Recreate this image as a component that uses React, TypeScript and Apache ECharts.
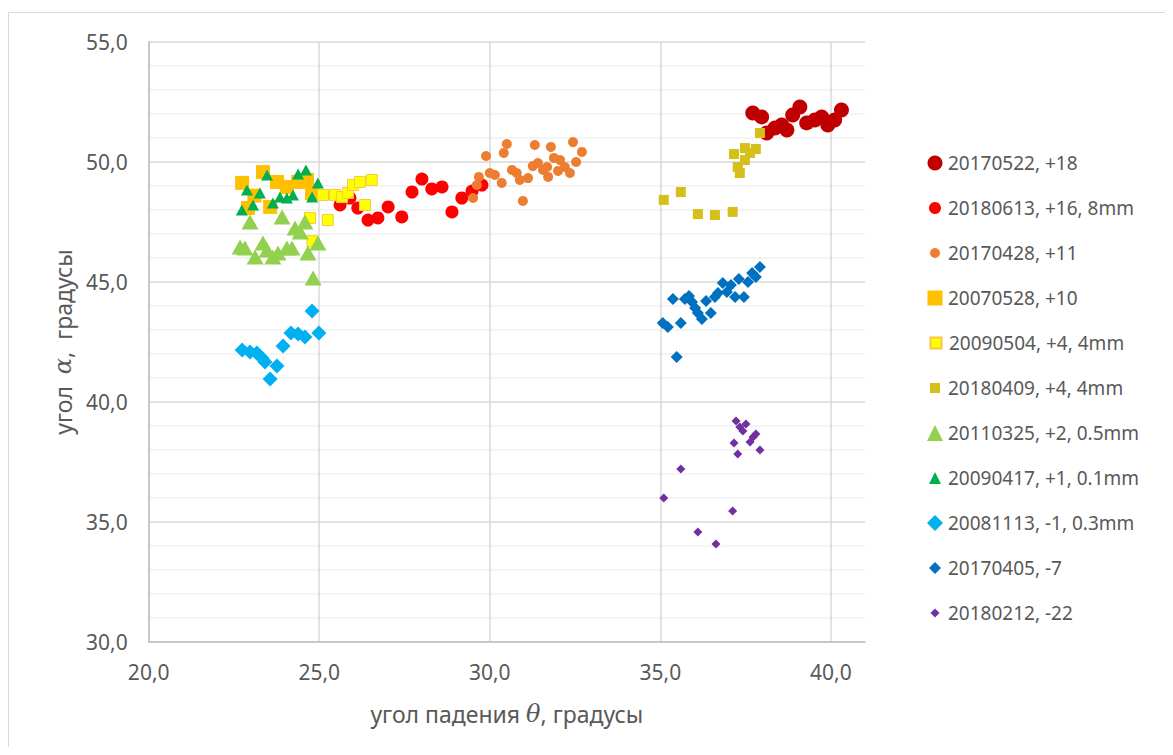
import React, { useEffect, useRef } from "react";
import * as echarts from "echarts";

const s20170522: number[][] = [
  [37.71, 52.04], [37.97, 51.88], [38.12, 51.21], [38.36, 51.42], [38.56, 51.54],
  [38.71, 51.33], [38.88, 51.96], [39.09, 52.29], [39.29, 51.63], [39.53, 51.75],
  [39.73, 51.88], [39.91, 51.54], [40.11, 51.75], [40.31, 52.17],
];
const s20180613: number[][] = [
  [25.61, 48.21], [25.9, 48.5], [26.13, 48.08], [26.43, 47.58], [26.72, 47.67],
  [27.02, 48.13], [27.42, 47.71], [27.72, 48.75], [28.01, 49.29], [28.3, 48.88],
  [28.6, 48.96], [28.89, 47.92], [29.18, 48.5], [29.48, 48.79], [29.77, 49.04],
];
const s20170428: number[][] = [
  [29.89, 50.25], [30.5, 50.75], [30.41, 50.38], [29.68, 49.38], [29.62, 49.04],
  [29.51, 48.5], [30.0, 49.54], [30.15, 49.46], [30.35, 49.13], [30.65, 49.67],
  [30.79, 49.54], [30.88, 49.25], [31.12, 49.33], [30.97, 48.38], [31.26, 49.83],
  [31.32, 50.71], [31.41, 49.96], [31.56, 49.67], [31.68, 49.79], [31.71, 49.38],
  [31.79, 50.63], [31.88, 50.17], [32.06, 50.08], [32.0, 49.63], [32.2, 49.79],
  [32.35, 49.54], [32.44, 50.83], [32.53, 50.0], [32.7, 50.42],
];
const s20070528: number[][] = [
  [22.74, 49.13], [23.35, 49.58], [23.76, 49.17], [24.05, 48.96], [24.38, 49.17],
  [24.64, 49.25], [24.79, 48.71], [22.91, 48.08], [23.56, 48.13], [23.1, 48.6],
];
const s20090504: number[][] = [
  [25.11, 48.63], [25.46, 48.63], [25.67, 48.54], [25.84, 48.71], [25.99, 49.04],
  [26.19, 49.17], [26.54, 49.25], [26.34, 48.21], [24.73, 47.67], [25.25, 47.58],
  [24.8, 46.7],
];
const s20180409: number[][] = [
  [37.92, 51.21], [37.16, 50.33], [37.48, 50.58], [37.8, 50.54], [37.63, 50.38],
  [37.48, 50.08], [37.27, 49.79], [37.33, 49.54], [35.1, 48.42], [35.6, 48.75],
  [36.1, 47.83], [36.6, 47.79], [37.12, 47.92],
];
const s20110325: number[][] = [
  [22.97, 47.5], [23.91, 47.71], [24.29, 47.25], [24.58, 47.5], [24.44, 47.08],
  [22.68, 46.46], [22.82, 46.42], [23.12, 46.04], [23.35, 46.63], [23.47, 46.33],
  [23.64, 46.04], [23.79, 46.21], [24.05, 46.42], [24.2, 46.42], [24.67, 46.21],
  [24.96, 46.63], [24.82, 45.17],
];
const s20090417: number[][] = [
  [23.47, 49.46], [22.88, 48.83], [23.26, 48.71], [23.06, 48.21], [22.73, 48.0],
  [23.64, 48.29], [23.85, 48.54], [24.05, 48.5], [24.23, 48.63], [24.38, 49.5],
  [24.61, 49.67], [24.96, 49.13], [24.79, 48.54],
];
const s20081113: number[][] = [
  [22.74, 42.17], [22.97, 42.08], [23.17, 42.04], [23.32, 41.83], [23.41, 41.67],
  [23.56, 40.96], [23.76, 41.5], [23.94, 42.33], [24.17, 42.88], [24.38, 42.83],
  [24.58, 42.71], [24.79, 43.79], [24.99, 42.88],
];
const s20170405: number[][] = [
  [35.07, 43.29], [35.22, 43.13], [35.37, 44.29], [35.6, 43.29], [35.48, 41.88],
  [35.72, 44.29], [35.84, 44.42], [35.93, 44.17], [36.02, 43.92], [36.1, 43.71],
  [36.22, 43.46], [36.34, 44.21], [36.48, 43.71], [36.6, 44.38], [36.69, 44.54],
  [36.83, 44.96], [36.95, 44.58], [37.07, 44.88], [37.19, 44.38], [37.3, 45.13],
  [37.45, 44.38], [37.57, 45.0], [37.69, 45.38], [37.8, 45.21], [37.92, 45.63],
];
const s20180212: number[][] = [
  [37.22, 39.21], [37.33, 38.96], [37.42, 38.79], [37.51, 39.08], [37.16, 38.29],
  [37.27, 37.83], [37.63, 38.33], [37.72, 38.54], [37.8, 38.67], [37.92, 38.0],
  [35.6, 37.21], [35.1, 36.0], [37.12, 35.46], [36.1, 34.58], [36.63, 34.08],
];

const seriesNames: string[] = [
  "20170522, +18",
  "20180613, +16, 8mm",
  "20170428, +11",
  "20070528, +10",
  "20090504, +4, 4mm",
  "20180409, +4, 4mm",
  "20110325, +2, 0.5mm",
  "20090417, +1, 0.1mm",
  "20081113, -1, 0.3mm",
  "20170405, -7",
  "20180212, -22",
];
const seriesData: number[][][] = [
  s20170522, s20180613, s20170428, s20070528, s20090504, s20180409,
  s20110325, s20090417, s20081113, s20170405, s20180212,
];

type Sty = { symbol: string; size: number | number[]; legend: number; color: string; border?: string };
const styles: Sty[] = [
  { symbol: "circle", size: 15, legend: 15, color: "#C00000" },
  { symbol: "circle", size: 13, legend: 12, color: "#FF0000" },
  { symbol: "circle", size: 10, legend: 10, color: "#ED7D31" },
  { symbol: "rect", size: 14, legend: 15, color: "#FFC000" },
  { symbol: "rect", size: 11, legend: 11, color: "#FFFF00", border: "#F5C842" },
  { symbol: "rect", size: 10, legend: 10, color: "#D5BF1A" },
  { symbol: "triangle", size: [17, 15], legend: 16, color: "#92D050" },
  { symbol: "triangle", size: [12, 11], legend: 12, color: "#00B050" },
  { symbol: "diamond", size: 15, legend: 16, color: "#00B0F0" },
  { symbol: "diamond", size: 12, legend: 12, color: "#0070C0" },
  { symbol: "diamond", size: 9, legend: 9, color: "#7030A0" },
];

const fmt = (v: number) => v.toFixed(1).replace(".", ",");
const TXT = "#595959";
const FONT = "'Noto Sans', 'Open Sans', sans-serif";

export default function App() {
  const ref = useRef<HTMLDivElement>(null);
  useEffect(() => {
    if (!ref.current) return;
    const chart = echarts.init(ref.current, undefined, { renderer: "svg" });
    const legends = seriesNames.map((n, i) => {
      const w = styles[i].legend;
      return {
        data: [{ name: n, icon: styles[i].symbol }],
        orient: "vertical",
        left: 927 - w / 2,
        top: 155 + 45 * i - 12,
        padding: 0,
        itemWidth: w,
        itemHeight: w,
        selectedMode: false,
        textStyle: {
          color: TXT,
          fontSize: 19,
          fontFamily: FONT,
          lineHeight: 24,
          padding: [0, 0, 0, Math.max(0, 8 - w / 2)],
        },
      };
    });
    const rich = {
      a: { fontSize: 23, color: TXT, fontFamily: FONT },
      i: { fontSize: 24, color: TXT, fontStyle: "italic", fontFamily: "'DejaVu Serif', serif" },
    };
    chart.setOption({
      animation: false,
      backgroundColor: "#FFFFFF",
      textStyle: { fontFamily: FONT },
      graphic: [
        {
          type: "rect",
          shape: { x: 0.5, y: 4.5, width: 1161, height: 740 },
          style: { fill: "none", stroke: "#D9D9D9", lineWidth: 1 },
          silent: true,
        },
      ],
      legend: legends,
      grid: { left: 140.7, top: 34, right: 308, bottom: 113, containLabel: false },
      xAxis: {
        type: "value",
        min: 20,
        max: 41,
        interval: 5,
        name: "{a|угол падения }{i|θ}{a|, градусы}",
        nameLocation: "middle",
        nameGap: 60,
        nameTextStyle: { rich },
        axisLine: { show: true, lineStyle: { color: "#BFBFBF", width: 1.5 } },
        axisTick: { show: false },
        axisLabel: {
          color: TXT,
          fontSize: 21,
          fontFamily: FONT,
          margin: 19,
          showMaxLabel: false,
          formatter: (v: number) => (v > 40.5 ? "" : fmt(v)),
        },
        splitLine: {
          show: true,
          lineStyle: {
            color: ["#D9D9D9", "#D9D9D9", "#D9D9D9", "#D9D9D9", "#D9D9D9", "rgba(0,0,0,0)"],
            width: 1.5,
          },
        },
      },
      yAxis: {
        type: "value",
        min: 30,
        max: 55,
        interval: 5,
        name: "{a|угол  }{i|α}{a|,  градусы}",
        nameLocation: "middle",
        nameGap: 73,
        nameTextStyle: { rich },
        axisLine: { show: true, lineStyle: { color: "#BFBFBF", width: 1.5 } },
        axisTick: { show: false },
        axisLabel: { color: TXT, fontSize: 21, fontFamily: FONT, margin: 21, formatter: (v: number) => fmt(v) },
        splitLine: { show: true, lineStyle: { color: "#D9D9D9", width: 1.5 } },
        minorTick: { show: false, splitNumber: 5 },
        minorSplitLine: { show: true, lineStyle: { color: "#F0F0F0", width: 1.5 } },
      },
      series: seriesNames.map((n, i) => ({
        name: n,
        type: "scatter",
        data: seriesData[i],
        symbol: styles[i].symbol,
        symbolSize: styles[i].size,
        itemStyle: {
          color: styles[i].color,
          borderColor: styles[i].border || styles[i].color,
          borderWidth: styles[i].border ? 1 : 0,
          opacity: 1,
        },
        emphasis: { disabled: true },
        z: 2 + i,
      })),
    });
    return () => chart.dispose();
  }, []);
  return <div ref={ref} style={{ width: 1165, height: 747, marginBottom: -8 }} />;
}
